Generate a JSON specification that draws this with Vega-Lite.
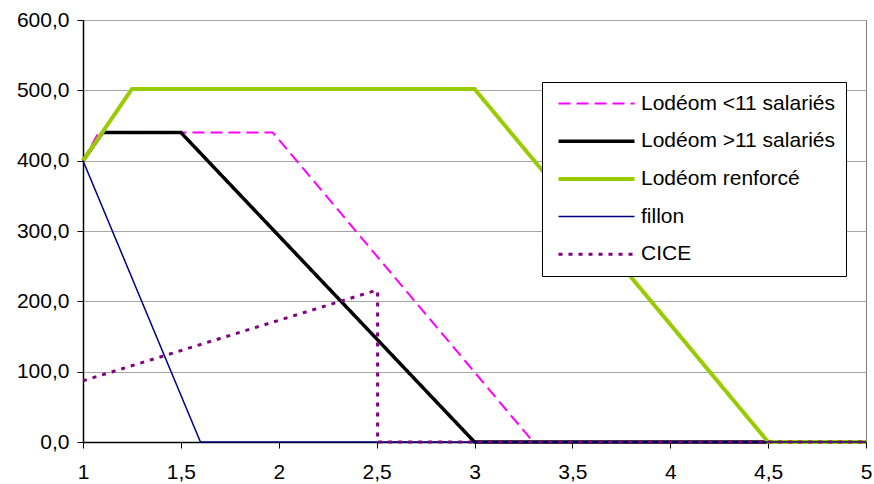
{
  "$schema": "https://vega.github.io/schema/vega-lite/v6.json",
  "width": 783,
  "height": 422,
  "autosize": {"type": "none"},
  "padding": {"left": 83, "top": 20, "right": 8, "bottom": 42},
  "background": "white",
  "config": {
    "view": {"stroke": "#808080", "strokeWidth": 1},
    "font": "Liberation Sans"
  },
  "data": {
    "values": [
      {"series": "Lodéom <11 salariés", "i": 1, "x": 1, "y": 400},
      {"series": "Lodéom <11 salariés", "i": 2, "x": 1.08, "y": 440},
      {"series": "Lodéom <11 salariés", "i": 3, "x": 1.97, "y": 440},
      {"series": "Lodéom <11 salariés", "i": 4, "x": 3.27, "y": 10},
      {"series": "Lodéom <11 salariés", "i": 5, "x": 3.3, "y": 0},
      {"series": "Lodéom <11 salariés", "i": 6, "x": 5, "y": 0},
      {"series": "Lodéom >11 salariés", "i": 1, "x": 1, "y": 400},
      {"series": "Lodéom >11 salariés", "i": 2, "x": 1.1, "y": 440},
      {"series": "Lodéom >11 salariés", "i": 3, "x": 1.5, "y": 440},
      {"series": "Lodéom >11 salariés", "i": 4, "x": 3, "y": 0},
      {"series": "Lodéom >11 salariés", "i": 5, "x": 5, "y": 0},
      {"series": "Lodéom renforcé", "i": 1, "x": 1, "y": 400},
      {"series": "Lodéom renforcé", "i": 2, "x": 1.25, "y": 502},
      {"series": "Lodéom renforcé", "i": 3, "x": 3, "y": 502},
      {"series": "Lodéom renforcé", "i": 4, "x": 4.5, "y": 0},
      {"series": "Lodéom renforcé", "i": 5, "x": 5, "y": 0},
      {"series": "fillon", "i": 1, "x": 1, "y": 400},
      {"series": "fillon", "i": 2, "x": 1.6, "y": 0},
      {"series": "fillon", "i": 3, "x": 5, "y": 0},
      {"series": "CICE", "i": 1, "x": 1, "y": 87},
      {"series": "CICE", "i": 2, "x": 1.5, "y": 130},
      {"series": "CICE", "i": 3, "x": 2, "y": 173},
      {"series": "CICE", "i": 4, "x": 2.49, "y": 215},
      {"series": "CICE", "i": 5, "x": 2.505, "y": 215},
      {"series": "CICE", "i": 6, "x": 2.505, "y": 0},
      {"series": "CICE", "i": 7, "x": 5, "y": 0}
    ]
  },
  "mark": {"type": "line", "strokeCap": "butt", "strokeJoin": "miter"},
  "encoding": {
    "x": {
      "field": "x", "type": "quantitative",
      "scale": {"domain": [1, 5], "nice": false, "zero": false},
      "axis": {
        "title": null, "grid": false,
        "values": [1, 1.5, 2, 2.5, 3, 3.5, 4, 4.5, 5],
        "labelExpr": "replace(format(datum.value, ''), '.', ',')",
        "domainColor": "#000000", "domainWidth": 1.5,
        "tickColor": "#000000", "tickSize": 6, "tickWidth": 1,
        "labelFontSize": 21, "labelColor": "#000000", "labelPadding": 13,
        "labelFont": "Liberation Sans", "labelFlush": false
      }
    },
    "y": {
      "field": "y", "type": "quantitative",
      "scale": {"domain": [0, 600], "nice": false},
      "axis": {
        "title": null,
        "values": [0, 100, 200, 300, 400, 500, 600],
        "labelExpr": "replace(format(datum.value, '.1f'), '.', ',')",
        "grid": true, "gridColor": "#a6a6a6", "gridWidth": 1,
        "domainColor": "#000000", "domainWidth": 1.5,
        "tickColor": "#000000", "tickSize": 6, "tickWidth": 1,
        "labelFontSize": 21, "labelColor": "#000000", "labelPadding": 8,
        "labelFont": "Liberation Sans"
      }
    },
    "order": {"field": "i", "type": "quantitative"},
    "color": {
      "field": "series", "type": "nominal",
      "scale": {
        "domain": ["Lodéom <11 salariés", "Lodéom >11 salariés", "Lodéom renforcé", "fillon", "CICE"],
        "range": ["#FF00FF", "#000000", "#99CC00", "#000080", "#800080"]
      },
      "legend": {
        "title": null,
        "orient": "none", "legendX": 459, "legendY": 62,
        "strokeColor": "#000000", "fillColor": "#ffffff",
        "padding": 11, "symbolOffset": 33,
        "symbolType": "M-5,0H5", "symbolSize": 231,
        "labelFontSize": 21, "labelFont": "Liberation Sans", "labelColor": "#000000",
        "labelOffset": 34, "rowPadding": 15.7, "labelLimit": 400
      }
    },
    "strokeDash": {
      "field": "series", "type": "nominal",
      "scale": {
        "domain": ["Lodéom <11 salariés", "Lodéom >11 salariés", "Lodéom renforcé", "fillon", "CICE"],
        "range": [[12, 6], [1, 0], [1, 0], [1, 0], [4, 6]]
      }
    },
    "strokeWidth": {
      "field": "series", "type": "nominal",
      "scale": {
        "type": "ordinal",
        "domain": ["Lodéom <11 salariés", "Lodéom >11 salariés", "Lodéom renforcé", "fillon", "CICE"],
        "range": [2, 3.5, 4, 1.5, 3]
      }
    }
  }
}
